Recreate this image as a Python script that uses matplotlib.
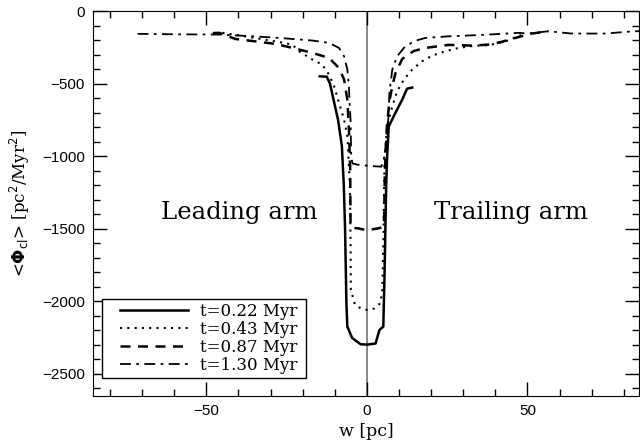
import matplotlib
matplotlib.use("Agg")
import matplotlib.pyplot as plt
from matplotlib.patches import Rectangle
from matplotlib.ticker import MultipleLocator

# profiles of <Phi_cl> across the stream, w in pc
w_022 = [-14.7, -12.5, -11.5, -10.9, -9.0, -7.8, -7.2, -6.8, -6.4, -6.1, -4.6, -2.0, 0.0,
         2.7, 3.9, 5.1, 5.5, 6.0, 6.3, 6.8, 8.9, 11.0, 12.5, 14.1]
phi_022 = [-450, -452, -500, -561, -748, -930, -1200, -1500, -2000, -2174, -2252, -2295, -2298,
           -2290, -2197, -2174, -1800, -1200, -1000, -795, -700, -610, -535, -527]

w_043 = [-45.0, -35.0, -27.0, -23.2, -21.1, -17.0, -13.9, -11.8, -10.2, -8.7, -7.1, -6.1,
         -5.3, -5.1, -5.0, -3.7, -2.0, 0.0, 2.2, 4.2, 4.8, 5.2, 5.5, 6.3, 7.9, 9.4, 11.5,
         14.1, 17.2, 20.3, 24.4, 28.6, 33.0, 38.0, 43.0, 48.0]
phi_043 = [-150, -185, -215, -231, -277, -334, -369, -438, -519, -633, -748, -863,
           -1200, -1600, -1920, -2024, -2047, -2059, -2050, -2012, -1920, -1500, -1000,
           -795, -657, -553, -472, -403, -346, -307, -277, -254, -240, -235, -210, -165]

w_087 = [-48.0, -46.0, -41.0, -33.6, -28.0, -23.2, -17.0, -11.8, -8.7, -7.1, -6.1, -5.6,
         -5.2, -5.1, -4.0, -2.7, 0.0, 2.7, 4.0, 5.3, 5.6, 6.2, 7.0, 7.9, 8.9, 11.0, 14.6,
         18.2, 25.5, 32.7, 37.9, 42.0, 46.2, 51.3, 56.5]
phi_087 = [-152, -150, -192, -212, -228, -254, -288, -323, -392, -472, -610, -817,
           -1100, -1480, -1495, -1497, -1510, -1500, -1495, -1480, -1100, -800, -620,
           -519, -426, -330, -275, -254, -233, -238, -231, -212, -185, -155, -140]

w_130 = [-71.4, -60.0, -46.0, -37.0, -27.4, -17.0, -11.8, -8.7, -7.1, -6.1, -5.6, -5.4,
         -5.1, -4.9, -4.5, -3.0, 0.0, 3.0, 4.5, 5.5, 6.3, 6.8, 7.0, 7.9, 9.4, 11.5, 14.6,
         18.2, 25.5, 30.0, 37.9, 47.2, 50.3, 56.5, 63.7, 74.1, 83.4, 86.0]
phi_130 = [-157, -160, -162, -172, -185, -203, -219, -254, -312, -403, -519, -632,
           -748, -1000, -1050, -1058, -1065, -1070, -1072, -1000, -850, -700, -564, -403,
           -312, -254, -208, -185, -174, -170, -162, -150, -155, -139, -155, -155, -139, -139]

labels = ["t=0.22 Myr", "t=0.43 Myr", "t=0.87 Myr", "t=1.30 Myr"]

fig = plt.figure(figsize=(6.4, 4.42), dpi=100)
ax = fig.add_axes([0.1453, 0.104, 0.853, 0.871])

ax.axvline(0, color="#808080", lw=1.3, zorder=1)

ax.plot(w_022, phi_022, color="black", lw=1.8, ls="-", label=labels[0])
ax.plot(w_043, phi_043, color="black", lw=1.5, ls=(0, (1, 2.5)), label=labels[1])
ax.plot(w_087, phi_087, color="black", lw=1.8, ls=(0, (4, 3)), label=labels[2])
ax.plot(w_130, phi_130, color="black", lw=1.3, ls=(0, (6, 3, 1.5, 3)), label=labels[3])

ax.set_xlim(-85.3, 84.7)
ax.set_ylim(-2652, 0)

ax.xaxis.set_major_locator(MultipleLocator(50))
ax.xaxis.set_minor_locator(MultipleLocator(10))
ax.yaxis.set_major_locator(MultipleLocator(500))
ax.yaxis.set_minor_locator(MultipleLocator(100))
ax.tick_params(which="both", direction="in", top=True, right=True, width=1,
               labelsize=11, pad=6)
ax.tick_params(which="major", length=10)
ax.tick_params(which="minor", length=5)
for lab in ax.get_xticklabels() + ax.get_yticklabels():
    lab.set_family("Liberation Sans")

ax.set_xlabel("w [pc]", family="DejaVu Serif", fontsize=12.5, labelpad=3)
ax.set_ylabel(r"<$\mathbf{\Phi}_{\rm cl}$> [pc$^2$/Myr$^2$]", family="DejaVu Serif",
              fontsize=12, labelpad=7)

ax.text(-39.8, -1390, "Leading arm", family="DejaVu Serif", fontsize=17.5,
        ha="center", va="center")
ax.text(45.0, -1390, "Trailing arm", family="DejaVu Serif", fontsize=17.5,
        ha="center", va="center")

# legend box drawn separately so the entries can sit inset from it
ax.add_patch(Rectangle((0.0165, 0.047), 0.3736, 0.205, transform=ax.transAxes,
                       facecolor="white", edgecolor="black", lw=1.0, zorder=4))
leg = ax.legend(loc="lower left", bbox_to_anchor=(0.0495, 0.057),
                prop={"family": "DejaVu Serif", "size": 12},
                handlelength=4.1, handletextpad=0.72, labelspacing=0.06,
                borderpad=0.0, frameon=False, borderaxespad=0)
leg.set_zorder(5)

fig.savefig("out.png", dpi=100)
